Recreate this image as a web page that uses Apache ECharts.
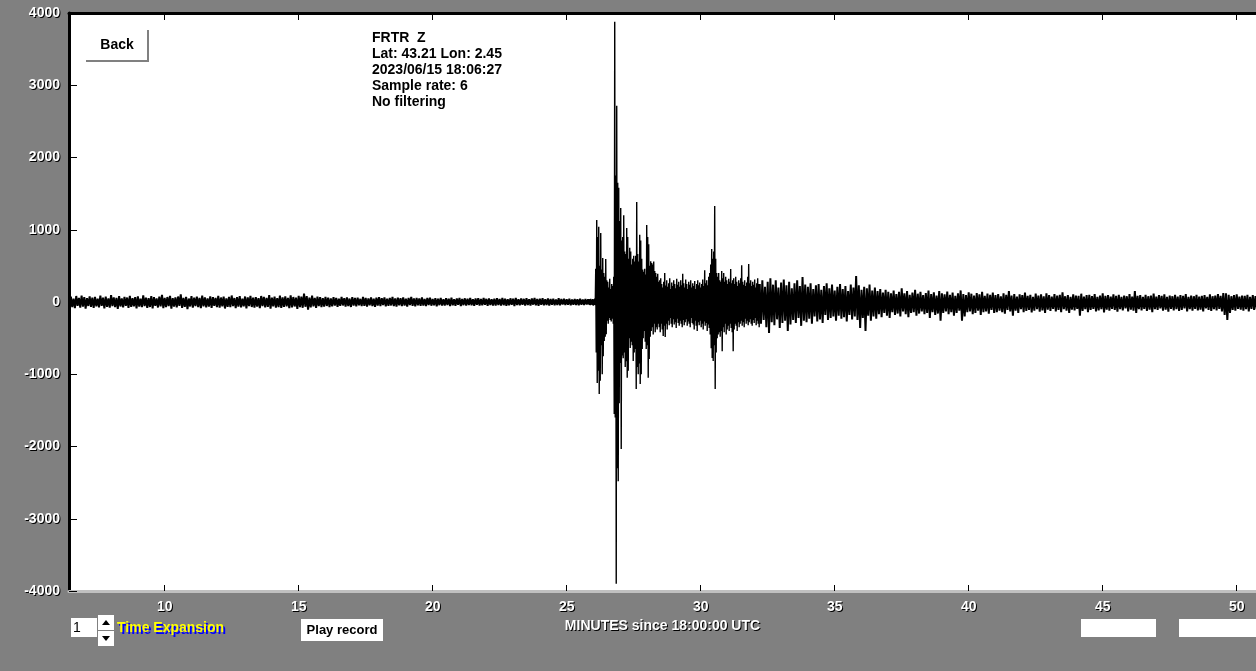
<!DOCTYPE html>
<html><head><meta charset="utf-8">
<script src="https://cdn.jsdelivr.net/npm/echarts@6/dist/echarts.min.js"></script>
<style>html,body{margin:0;padding:0;background:#808080;}#chart{width:1256px;height:671px;}</style>
</head><body><div id="chart"></div>
<script>
// ---- axis / tick data ----
const X_MIN = 6.43, X_MAX = 50.72;
const xTicks = [10, 15, 20, 25, 30, 35, 40, 45, 50];
const Y_MIN = -4000, Y_MAX = 4000, Y_STEP = 1000;
const infoLines = ['FRTR  Z', 'Lat: 43.21 Lon: 2.45', '2023/06/15 18:06:27', 'Sample rate: 6', 'No filtering'];
const xAxisTitle = 'MINUTES since 18:00:00 UTC';

// ---- trace envelope (minutes since 18:00, counts) ----
// pre-event noise: start 6.4 min, one high/low pair every 0.1 min
const preStart = 6.4, preStep = 0.1;
const preHi = [
62,75,48,83,57,90,66,52,78,61,
70,45,88,59,73,50,95,64,57,80,
49,71,62,86,54,68,77,47,92,60,
55,81,66,50,74,99,58,69,84,52,
63,76,105,57,70,48,82,61,73,56,
88,64,51,79,67,58,85,62,74,50,
71,90,55,68,80,47,76,63,86,59,
66,52,83,70,57,95,61,74,54,88,
65,78,58,92,69,60,84,73,115,81,
62,90,56,75,68,52,71,60,49,66,
58,45,70,54,63,48,67,55,61,44,
72,57,50,65,47,59,68,52,62,46,
55,69,49,60,53,64,45,58,71,50,
57,48,63,44,55,61,42,52,47,58,
40,53,46,60,38,49,55,43,51,45,
57,39,48,52,41,56,44,50,37,47,
53,42,58,45,39,51,47,55,40,49,
44,52,38,48,56,41,46,53,39,50,
43,47,36,52,41,45,38,44,35,42,
39,46,34,41,37];
const preLo = [
-58,-70,-85,-52,-77,-63,-92,-55,-68,-81,
-60,-74,-53,-88,-66,-79,-57,-71,-95,-62,
-75,-54,-83,-67,-59,-90,-64,-72,-56,-80,
-69,-87,-52,-76,-61,-84,-70,-58,-93,-65,
-73,-55,-80,-68,-99,-62,-77,-57,-71,-86,
-60,-75,-64,-82,-53,-70,-78,-59,-90,-66,
-72,-56,-84,-65,-74,-61,-88,-58,-69,-79,
-63,-85,-57,-73,-66,-92,-60,-77,-70,-83,
-68,-59,-86,-74,-62,-95,-71,-80,-66,-105,
-73,-61,-82,-58,-70,-64,-55,-72,-60,-51,
-66,-54,-48,-62,-57,-69,-50,-60,-45,-58,
-52,-63,-47,-56,-66,-49,-58,-44,-61,-53,
-48,-57,-62,-46,-55,-50,-64,-43,-52,-59,
-45,-54,-49,-58,-42,-51,-47,-60,-44,-50,
-48,-41,-55,-46,-52,-39,-57,-44,-49,-42,
-47,-53,-40,-50,-45,-38,-54,-43,-48,-51,
-41,-49,-44,-52,-46,-40,-55,-42,-47,-39,
-50,-43,-48,-37,-45,-52,-40,-46,-42,-49,
-38,-44,-41,-47,-36,-43,-40,-45,-37,-42,
-44,-39,-41,-36,-40];

// main event: start 25.86 min, one pair every 0.0373 min
const eventStart = 25.86, eventStep = 0.0373;
const eventHi = [
40,45,35,42,38,46,
460,1135,900,1040,500,955,450,610,400,350,
595,300,280,200,320,180,250,220,350,
3880,1750,2715,1650,1580,1120,1300,850,900,1200,
700,665,1025,900,600,750,700,520,600,640,
560,640,1385,665,560,930,850,600,450,420,
460,380,1065,900,800,500,565,540,520,560,
430,400,350,390,
280,300,330,250,200,280,400,230,300,210,
260,330,180,270,220,300,250,190,320,240,
280,210,300,230,390,260,200,310,250,180,
280,240,300,200,260,220,290,180,250,300,
230,270,200,250,310,220,440,260,300,230,
350,400,520,735,600,700,1330,600,400,350,
400,300,280,430,330,400,280,350,300,250,
320,280,455,260,300,330,250,350,280,220,
300,260,330,510,280,240,300,220,270,350,
525,260,300,220,280,240,310,200,260,330,250];
const eventLo = [
-45,-38,-42,-50,-40,-44,
-700,-1120,-950,-1275,-1090,-600,-1000,-750,-540,-480,
-445,-260,-300,-220,-250,-270,-230,-300,-1550,
-1600,-3900,-2300,-2480,-1400,-845,-2035,-740,-780,-700,
-900,-820,-1050,-950,-500,-635,-550,-600,-815,-700,
-650,-1205,-900,-1000,-850,-1135,-1000,-650,-500,-400,
-550,-650,-600,-1050,-790,-480,-400,-350,-450,-300,
-420,-350,-380,-300,
-350,-420,-300,-380,-470,-330,-485,-300,-380,-260,
-320,-220,-300,-350,-240,-310,-280,-360,-230,-290,
-330,-260,-300,-350,-250,-320,-280,-240,-330,-270,
-300,-350,-220,-290,-310,-380,-260,-330,-400,-280,
-320,-260,-350,-300,-380,-270,-330,-290,-400,-310,
-360,-450,-640,-775,-815,-600,-1205,-700,-500,-450,
-420,-480,-400,-680,-350,-420,-300,-450,-380,-330,
-400,-300,-360,-420,-680,-380,-300,-330,-400,-280,
-350,-300,-260,-330,-280,-350,-230,-300,-260,-320,
-280,-240,-300,-330,-250,-290,-220,-320,-260,-300,-350];

// coda: start 32.2 min, one pair every 0.1 min
const codaStart = 32.2, codaStep = 0.1;
const codaHi = [
250,300,210,280,330,240,300,200,270,310,
230,280,190,260,300,220,345,240,210,260,
180,230,250,170,220,260,190,240,160,210,
250,180,220,150,240,200,360,230,170,210,
190,240,160,200,150,180,130,170,140,120,
160,110,140,190,120,150,100,130,170,115,
140,95,125,160,110,135,90,150,120,105,
145,100,130,85,120,160,110,95,135,115,
90,125,105,140,85,115,100,130,95,110,
80,120,100,150,90,110,75,105,95,130,
85,100,70,115,90,105,80,120,95,75,
110,90,100,135,80,95,70,105,90,85,
115,75,95,100,80,110,70,90,120,85,
95,75,105,85,100,70,90,80,110,75,
150,85,95,70,100,80,90,115,75,95,
85,105,70,90,80,100,75,95,85,110,
70,90,80,100,75,85,95,70,105,80,
90,110,85,125,120,100,80,95,105,75,
90,85,100,70,95,80];
const codaLo = [
-300,-250,-350,-430,-280,-320,-240,-360,-290,-260,
-400,-310,-250,-290,-220,-330,-260,-280,-230,-300,
-200,-270,-240,-290,-180,-250,-220,-200,-260,-190,
-230,-210,-270,-180,-240,-200,-250,-360,-220,-400,
-190,-260,-200,-230,-170,-210,-150,-190,-220,-140,
-180,-160,-200,-130,-170,-210,-150,-140,-190,-160,
-130,-170,-150,-220,-140,-180,-160,-260,-150,-130,
-170,-140,-190,-150,-120,-260,-200,-140,-130,-170,
-150,-120,-180,-140,-130,-160,-110,-150,-140,-120,
-140,-160,-110,-130,-190,-120,-150,-100,-140,-125,
-110,-145,-120,-100,-135,-115,-150,-105,-125,-95,
-130,-110,-140,-100,-120,-150,-105,-115,-95,-190,
-125,-100,-140,-110,-95,-130,-115,-100,-145,-105,
-120,-95,-110,-135,-100,-115,-90,-130,-105,-120,
-150,-100,-115,-95,-125,-105,-140,-100,-110,-90,
-120,-105,-135,-95,-115,-100,-125,-110,-90,-130,
-100,-120,-95,-115,-105,-130,-90,-110,-125,-100,
-115,-95,-130,-180,-250,-150,-110,-120,-95,-105,
-120,-100,-130,-95,-110,-100];

// ---- build the trace segments ----
function segment(start, step, hi, lo) {
  const out = [];
  for (let i = 0; i < hi.length; i++) {
    out.push([start + i * step, hi[i]]);
    out.push([start + (i + 0.5) * step, lo[i]]);
  }
  return out;
}
const preData = segment(preStart, preStep, preHi, preLo);
const eventData = segment(eventStart, eventStep, eventHi, eventLo);
const codaData = segment(codaStart, codaStep, codaHi, codaLo);
// join segments so the trace is continuous
preData.push(eventData[0]);
eventData.push(codaData[0]);

const FONT = 'Liberation Sans';
const whiteLbl = {color:'#fff', fontFamily:FONT, fontWeight:'bold', fontSize:14,
  textShadowColor:'#000', textShadowOffsetX:1, textShadowOffsetY:1, textShadowBlur:0.01};

function shadowText(x, y, text, font, fill, shadow, dx, dy, align) {
  return [
    {type:'text', x:x + dx, y:y + dy, style:{text, fill:shadow, font, align, verticalAlign:'middle'}, z:101},
    {type:'text', x, y, style:{text, fill, font, align, verticalAlign:'middle'}, z:102}
  ];
}

const graphics = [
  {type:'rect', shape:{x:86, y:30, width:62, height:31}, style:{fill:'#fff'}, z:100},
  {type:'polyline', shape:{points:[[86,61],[148,61],[148,30]]}, style:{stroke:'#808080', lineWidth:2, fill:null}, z:101},
  {type:'text', x:117, y:45, style:{text:'Back', fill:'#000', font:'bold 14px "Liberation Sans"', align:'center', verticalAlign:'middle'}, z:102},
  // bottom controls
  {type:'rect', shape:{x:71, y:618, width:26, height:19}, style:{fill:'#fff'}, z:100},
  {type:'text', x:73, y:628, style:{text:'1', fill:'#000', font:'14px "Liberation Sans"', align:'left', verticalAlign:'middle'}, z:102},
  {type:'rect', shape:{x:98, y:615, width:16, height:15}, style:{fill:'#fff'}, z:100},
  {type:'rect', shape:{x:98, y:631, width:16, height:15}, style:{fill:'#fff'}, z:100},
  {type:'polygon', shape:{points:[[102,625],[110,625],[106,620]]}, style:{fill:'#000'}, z:102},
  {type:'polygon', shape:{points:[[102,636],[110,636],[106,641]]}, style:{fill:'#000'}, z:102},
  ...shadowText(117, 628, 'Time Expansion', 'bold 14px "Liberation Sans"', '#ffff00', '#0000ff', 2, 2, 'left'),
  {type:'rect', shape:{x:301, y:619, width:82, height:22}, style:{fill:'#fff'}, z:100},
  {type:'text', x:342, y:630, style:{text:'Play record', fill:'#000', font:'bold 13px "Liberation Sans"', align:'center', verticalAlign:'middle'}, z:102},
  {type:'rect', shape:{x:1081, y:619, width:75, height:18}, style:{fill:'#fff'}, z:100},
  {type:'rect', shape:{x:1179, y:619, width:77, height:18}, style:{fill:'#fff'}, z:100}
];
infoLines.forEach((t, i) => {
  graphics.push({type:'text', x:372, y:38 + i * 16, style:{text:t, fill:'#000', font:'bold 14px "Liberation Sans"', align:'left', verticalAlign:'middle'}, z:102});
});

const traceSeries = (data, w) => ({type:'line', data, xAxisIndex:0, showSymbol:false, symbol:'none', sampling:null,
     lineStyle:{color:'#000', width:w}, silent:true, clip:true});

const chart = echarts.init(document.getElementById('chart'), null, {renderer:'canvas'});
chart.setOption({
  animation:false,
  backgroundColor:'#808080',
  grid:{left:69, right:0, top:13, bottom:80, show:true, backgroundColor:'#fff', borderWidth:0},
  xAxis:[
    {type:'value', min:X_MIN, max:X_MAX, position:'bottom',
     axisLine:{onZero:false, lineStyle:{color:'#c0c0c0', width:3}},
     axisTick:{inside:true, length:6, customValues:xTicks, lineStyle:{color:'#000', width:1}},
     axisLabel:Object.assign({customValues:xTicks, margin:9, formatter:v => String(v)}, whiteLbl),
     splitLine:{show:false},
     name:xAxisTitle, nameLocation:'middle', nameGap:24,
     nameTextStyle:Object.assign({}, whiteLbl)},
    {type:'value', min:X_MIN, max:X_MAX, position:'top',
     axisLine:{onZero:false, lineStyle:{color:'#000', width:3}},
     axisTick:{inside:true, length:7, customValues:xTicks, lineStyle:{color:'#000', width:1}},
     axisLabel:{show:false}, splitLine:{show:false}}
  ],
  yAxis:{type:'value', min:Y_MIN, max:Y_MAX, interval:Y_STEP,
     axisLine:{show:true, onZero:false, lineStyle:{color:'#000', width:3}},
     axisTick:{show:true, inside:true, length:8, lineStyle:{color:'#000', width:1}},
     axisLabel:Object.assign({margin:9, formatter:v => String(v)}, whiteLbl),
     splitLine:{show:false}},
  series:[traceSeries(preData, 2), traceSeries(eventData, 1.4), traceSeries(codaData, 2)],
  graphic:graphics
});
</script></body></html>
